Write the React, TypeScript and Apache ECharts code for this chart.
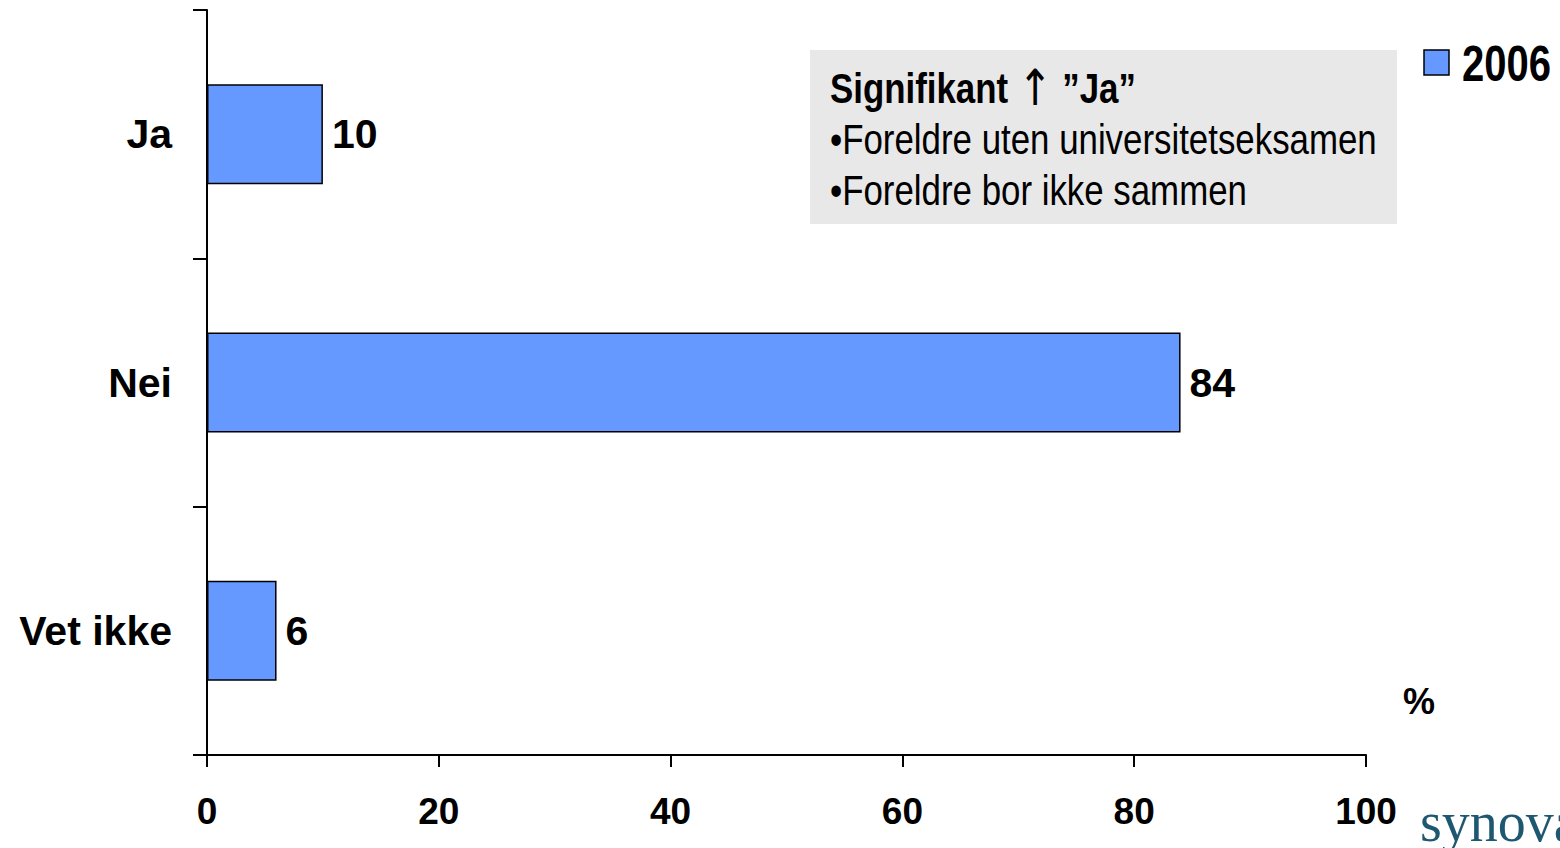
import React, { useEffect, useRef } from "react";
import * as echarts from "echarts";

const categories = ["Ja", "Nei", "Vet ikke"];
const values2006 = [10, 84, 6];
const seriesName = "2006";
const xTicks = [0, 20, 40, 60, 80, 100];
const noteTitleA = "Signifikant ";
const noteArrow = "\u2191";
const noteTitleB = " \u201dJa\u201d";
const noteLines = ["\u2022Foreldre uten universitetseksamen", "\u2022Foreldre bor ikke sammen"];
const unitLabel = "%";
const logoText = "synova";

const SANS = "'Liberation Sans', Arial, sans-serif";
const NARROW_SCALE = 0.83;

export default function App() {
  const ref = useRef<HTMLDivElement>(null);
  useEffect(() => {
    const chart = echarts.init(ref.current!, null, { renderer: "svg" });
    chart.setOption({
      animation: false,
      backgroundColor: "#ffffff",
      grid: { left: 207, right: 194, top: 10, bottom: 93, containLabel: false },
      legend: { show: false, data: [seriesName] },
      xAxis: {
        type: "value",
        min: xTicks[0],
        max: xTicks[xTicks.length - 1],
        interval: 20,
        splitLine: { show: false },
        axisLine: { show: true, lineStyle: { color: "#000", width: 2 } },
        axisTick: { show: true, length: 12, lineStyle: { color: "#000", width: 2 } },
        axisLabel: { margin: 38, fontFamily: SANS, fontWeight: "bold", fontSize: 37, color: "#000" },
      },
      yAxis: {
        type: "category",
        data: categories,
        inverse: true,
        axisLine: { show: true, lineStyle: { color: "#000", width: 2 } },
        axisTick: { show: true, length: 14, lineStyle: { color: "#000", width: 2 } },
        axisLabel: { margin: 35, fontFamily: SANS, fontWeight: "bold", fontSize: 41, color: "#000" },
      },
      series: [
        {
          name: seriesName,
          type: "bar",
          data: values2006,
          barWidth: 100,
          itemStyle: { color: "#6699FF", borderColor: "#000", borderWidth: 1.5 },
          label: {
            show: true,
            position: "right",
            distance: 9,
            fontFamily: SANS,
            fontWeight: "bold",
            fontSize: 41,
            color: "#000",
          },
        },
      ],
      graphic: [
        { type: "rect", shape: { x: 810, y: 50, width: 587, height: 174 }, style: { fill: "#E8E8E8" }, z: 0 },
        {
          type: "text",
          x: 830,
          y: 88,
          scaleX: NARROW_SCALE,
          style: {
            text: `{a|${noteTitleA}}{b|${noteArrow}}{a|${noteTitleB}}`,
            verticalAlign: "middle",
            rich: {
              a: { fontFamily: SANS, fontWeight: "bold", fontSize: 42, color: "#000" },
              b: { fontFamily: "'DejaVu Sans', sans-serif", fontSize: 50, color: "#000" },
            },
          },
          z: 1,
        },
        ...noteLines.map((t, i) => ({
          type: "text",
          x: 830,
          y: 139 + i * 51,
          scaleX: NARROW_SCALE,
          style: { text: t, fontFamily: SANS, fontSize: 42, fill: "#000", verticalAlign: "middle" },
          z: 1,
        })),
        {
          type: "rect",
          shape: { x: 1424, y: 50, width: 25, height: 25 },
          style: { fill: "#6699FF", stroke: "#000", lineWidth: 1.5 },
        },
        {
          type: "text",
          x: 1462,
          y: 64,
          scaleX: 0.8,
          style: { text: seriesName, fontFamily: SANS, fontWeight: "bold", fontSize: 50, fill: "#000", verticalAlign: "middle" },
        },
        {
          type: "text",
          x: 1419,
          y: 701,
          style: { text: unitLabel, fontFamily: SANS, fontWeight: "bold", fontSize: 36, fill: "#000", align: "center", verticalAlign: "middle" },
        },
        {
          type: "text",
          x: 1420,
          y: 822,
          style: { text: logoText, fontFamily: "'Liberation Serif', 'Times New Roman', serif", fontSize: 56, fill: "#1E5870", verticalAlign: "middle" },
        },
      ],
    });
    return () => chart.dispose();
  }, []);
  return <div ref={ref} style={{ width: 1560, height: 848, position: "absolute", left: 0, top: 0 }} />;
}
